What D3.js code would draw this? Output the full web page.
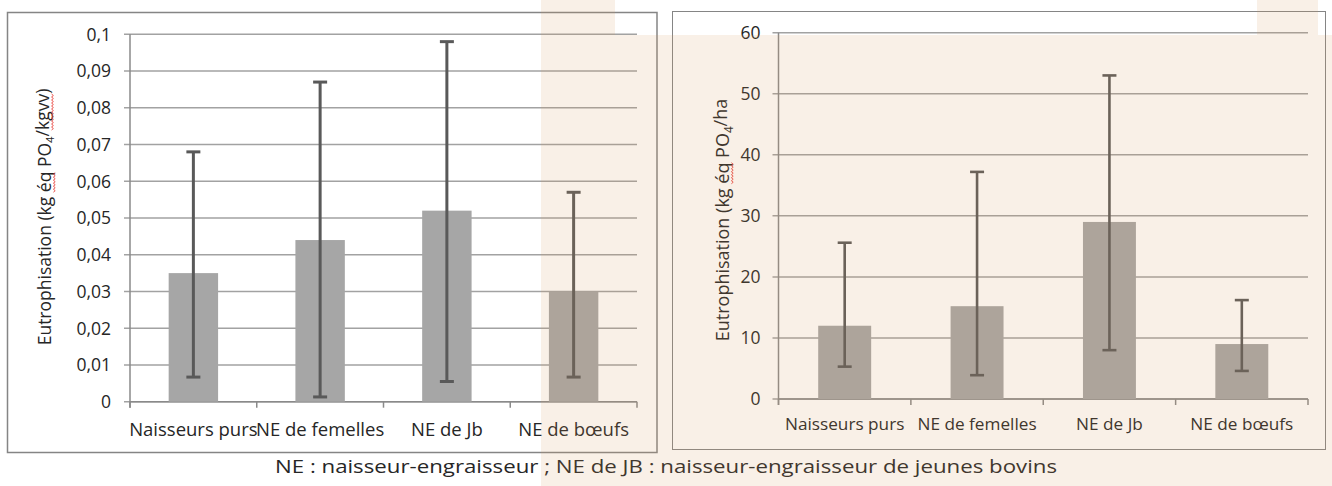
<html>
<head>
<script src="https://d3js.org/d3.v7.min.js"></script>
<style>
body { margin: 0; background: #fff; }
text { font-family: "Open Sans", sans-serif; fill: #262626; }
</style>
</head>
<body>
<script>
// data
const categories = ["Naisseurs purs", "NE de femelles", "NE de Jb", "NE de bœufs"];
const perKg = [0.035, 0.044, 0.052, 0.030];
const perKgLow = [0.0067, 0.0013, 0.0055, 0.0067];
const perKgHigh = [0.068, 0.087, 0.098, 0.057];
const perHa = [12, 15.2, 29, 9];
const perHaLow = [5.3, 3.9, 8, 4.6];
const perHaHigh = [25.6, 37.2, 53, 16.2];
const caption = "NE : naisseur-engraisseur ; NE de JB : naisseur-engraisseur de jeunes bovins";

const fr = d3.formatLocale({decimal: ",", thousands: " ", grouping: [3], currency: ["", " €"]});

const width = 1332, height = 486;
const svg = d3.select("body").append("svg")
    .attr("width", width).attr("height", height)
    .attr("viewBox", [0, 0, width, height]);

function squiggle(g, textEl, from, to) {
    let a = textEl.getStartPositionOfChar(from).x;
    let b = textEl.getEndPositionOfChar(to).x;
    let y = textEl.getStartPositionOfChar(from).y + 3;
    let pts = [];
    for (let x = a, k = 0; x <= b; x += 1.5, k++) pts.push([x, y + (k % 2 ? 1.2 : -0.6)]);
    g.append("path")
        .attr("d", d3.line()(pts))
        .attr("fill", "none")
        .attr("stroke", "#e8413a")
        .attr("stroke-width", 0.9);
}

function panel(o) {
    let g = svg.append("g");

    g.append("rect")
        .attr("x", o.frame[0]).attr("y", o.frame[1])
        .attr("width", o.frame[2] - o.frame[0]).attr("height", o.frame[3] - o.frame[1])
        .attr("fill", "none").attr("stroke", "#858585").attr("stroke-width", o.frameW);

    let x = d3.scaleBand().domain(categories).range([o.left, o.right]).padding(0);
    let y = d3.scaleLinear().domain([0, o.max]).range([o.bottom, o.top]);
    let ticks = y.ticks(o.nTicks);

    // gridlines + y ticks
    g.append("g").selectAll("line").data(ticks).join("line")
        .attr("x1", o.left - 6).attr("x2", o.right)
        .attr("y1", d => y(d)).attr("y2", d => y(d))
        .attr("stroke", "#a2a2a2").attr("stroke-width", 1.5);

    g.append("g").selectAll("text").data(ticks).join("text")
        .attr("x", o.left - o.labelGap).attr("y", d => y(d))
        .attr("dy", "0.36em")
        .attr("text-anchor", "end")
        .attr("font-family", o.tickFont)
        .attr("font-size", o.tickSize)
        .text(d => fr.format(".2~f")(d));

    // axes
    g.append("line")
        .attr("x1", o.left).attr("x2", o.left)
        .attr("y1", o.top).attr("y2", o.bottom + 6)
        .attr("stroke", "#8a8a8a").attr("stroke-width", 1.5);
    let bounds = categories.map(c => x(c)).concat([o.right]);
    g.append("g").selectAll("line").data(bounds).join("line")
        .attr("x1", d => d).attr("x2", d => d)
        .attr("y1", o.bottom).attr("y2", o.bottom + 6)
        .attr("stroke", "#8a8a8a").attr("stroke-width", 1.5);
    g.append("line")
        .attr("x1", o.left).attr("x2", o.right)
        .attr("y1", o.bottom).attr("y2", o.bottom)
        .attr("stroke", "#8a8a8a").attr("stroke-width", 1.5);

    // bars
    let bw = x.bandwidth() * o.barFrac;
    g.append("g").selectAll("rect").data(o.values).join("rect")
        .attr("x", (d, i) => x(categories[i]) + (x.bandwidth() - bw) / 2)
        .attr("width", bw)
        .attr("y", d => y(d))
        .attr("height", d => y(0) - y(d))
        .attr("fill", "#a6a6a6");

    // error bars
    let cx = i => x(categories[i]) + x.bandwidth() / 2;
    let eb = g.append("g").attr("stroke", "#595959").attr("stroke-width", o.errW);
    eb.selectAll(".v").data(o.values).join("line").attr("class", "v")
        .attr("x1", (d, i) => cx(i)).attr("x2", (d, i) => cx(i))
        .attr("y1", (d, i) => y(o.low[i])).attr("y2", (d, i) => y(o.high[i]));
    eb.selectAll(".t").data(o.values).join("line").attr("class", "t")
        .attr("x1", (d, i) => cx(i) - 7).attr("x2", (d, i) => cx(i) + 7)
        .attr("y1", (d, i) => y(o.high[i])).attr("y2", (d, i) => y(o.high[i]));
    eb.selectAll(".b").data(o.values).join("line").attr("class", "b")
        .attr("x1", (d, i) => cx(i) - 7).attr("x2", (d, i) => cx(i) + 7)
        .attr("y1", (d, i) => y(o.low[i])).attr("y2", (d, i) => y(o.low[i]));

    // category labels
    g.append("g").selectAll("text").data(categories).join("text")
        .attr("x", d => x(d) + x.bandwidth() / 2)
        .attr("y", o.catY)
        .attr("text-anchor", "middle")
        .attr("font-size", o.catSize)
        .text(d => d);

    // y title
    let tg = g.append("g").attr("transform", `translate(${o.titleX},${o.titleY}) rotate(-90)`);
    let t = tg.append("text")
        .attr("text-anchor", "middle")
        .attr("font-size", o.titleSize);
    t.append("tspan").text("Eutrophisation (kg éq PO");
    t.append("tspan").attr("font-size", "65%").attr("dy", "0.3em").text("4");
    t.append("tspan").attr("dy", "-0.3em").text(o.unit);
    o.squiggles.forEach(s => squiggle(tg, t.node(), s[0], s[1]));
}

panel({
    frame: [7.5, 12.5, 657, 452.5], frameW: 1.5,
    left: 130, right: 637, top: 34.3, bottom: 401.7,
    max: 0.1, nTicks: 10, values: perKg, low: perKgLow, high: perKgHigh,
    tickFont: "DejaVu Sans", tickSize: 17.5, labelGap: 19,
    barFrac: 0.39, errW: 3, catY: 436, catSize: 18.5,
    titleX: 51, titleY: 217, titleSize: 17.5, unit: "/kgvv)",
    squiggles: [[19, 20], [26, 29]]
});

panel({
    frame: [672.5, 11.5, 1325.5, 449.5], frameW: 1,
    left: 778.5, right: 1308, top: 32.7, bottom: 399,
    max: 60, nTicks: 6, values: perHa, low: perHaLow, high: perHaHigh,
    tickFont: "Open Sans", tickSize: 17.5, labelGap: 18,
    barFrac: 0.4, errW: 2.6, catY: 430, catSize: 17.2,
    titleX: 729, titleY: 220, titleSize: 18, unit: "/ha",
    squiggles: [[19, 20]]
});

svg.append("text")
    .attr("x", 666).attr("y", 473)
    .attr("text-anchor", "middle")
    .attr("font-size", 18.5)
    .attr("textLength", 782)
    .attr("lengthAdjust", "spacingAndGlyphs")
    .text(caption);

// beige page tint lying over the right part of the slide
svg.append("path")
    .attr("d", "M541,0H615V35H1257V0H1318V35H1332V486H541Z")
    .attr("fill", "rgb(215,155,95)")
    .attr("fill-opacity", 0.15)
    .attr("pointer-events", "none");
</script>
</body>
</html>
